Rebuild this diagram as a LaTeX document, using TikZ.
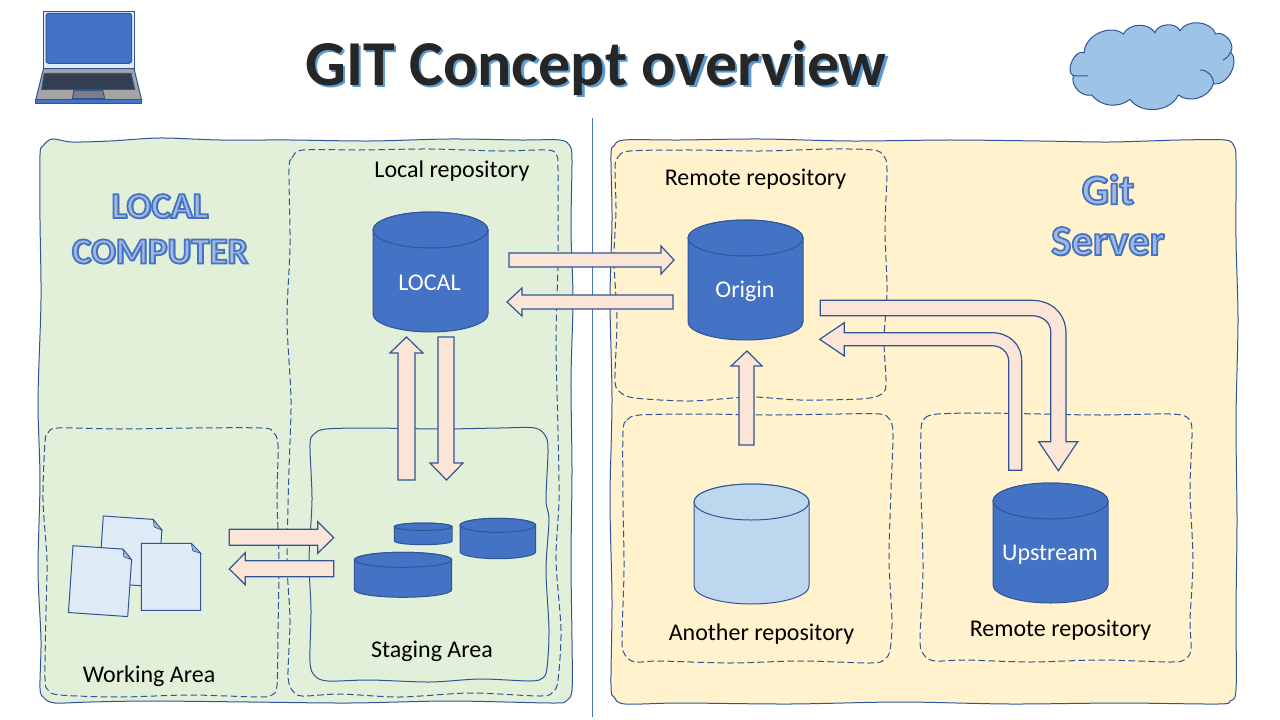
\documentclass[tikz,border=0pt]{standalone}
\usepackage{fontspec}
\setmainfont{Carlito}
\usepackage{tikz}
\definecolor{lineblue}{HTML}{2F5597}
\definecolor{diskblue}{HTML}{4472C4}
\definecolor{paleblue}{HTML}{BDD7EE}
\definecolor{cloudblue}{HTML}{9DC3E6}
\definecolor{sheetblue}{HTML}{DEEAF6}
\definecolor{foldgrey}{HTML}{ADB9CA}
\definecolor{greenbg}{HTML}{E2F0D9}
\definecolor{yellowbg}{HTML}{FFF2CC}
\definecolor{peach}{HTML}{FBE5D6}
\definecolor{shadowblue}{HTML}{5B9BD5}
\definecolor{titleblack}{HTML}{262626}
\definecolor{basegrey}{HTML}{A5A5A5}
\definecolor{padgrey}{HTML}{7F7F7F}
\definecolor{keysdark}{HTML}{333F50}
\tikzset{
	wavybox/.style={draw=lineblue,line width=0.75pt},
	dashbox/.style={draw=lineblue,line width=0.75pt,dash pattern=on 5pt off 2.5pt},
	flow/.style={draw=lineblue,fill=peach,line width=0.9pt,line join=miter},
	diskline/.style={draw=lineblue,line width=0.75pt},
	label/.style={font=\fontsize{18}{22}\selectfont,text=black},
	dblabel/.style={font=\fontsize{18}{22}\selectfont,text=white},
}
% one shifted copy of a text, inside a node
\newcommand\copyat[4]{\rlap{\kern#1\raisebox{#2}{\textcolor{#3}{#4}}}}
% outlined heading text: blue stroke, light inside
\newcommand\strokeon{\special{pdf:code q 2 Tr 1.3 w 0.267 0.447 0.769 RG 0.631 0.722 0.882 rg}}
\newcommand\strokeoff{\special{pdf:code 0 Tr Q}}
\newcommand\ringtext[1]{%
	\copyat{1pt}{-1pt}{diskblue}{#1}\strokeon #1\strokeoff}
% left, top, right, bottom, ellipse radius, fill
\newcommand\dbdisk[6]{
	\draw[diskline,fill=#6] ({#1},{#2+#5}) -- ({#1},{#4-#5})
		arc[start angle=180,end angle=0,x radius={(#3-#1)/2},y radius=#5]
		-- ({#3},{#2+#5})
		arc[start angle=0,end angle=-180,x radius={(#3-#1)/2},y radius=#5] -- cycle;
	\draw[diskline,fill=#6] ({(#1+#3)/2},{#2+#5}) ellipse [x radius={(#3-#1)/2},y radius=#5];
}
% one sheet of paper: top left corner and turn
\newcommand\sheet[3]{
	\begin{scope}[shift={(#1,#2)},rotate=#3]
		\draw[diskline,fill=sheetblue] (0,0) -- (50,0) -- (59.4,10) -- (59.4,67) -- (0,67) -- cycle;
		\draw[diskline,fill=foldgrey,line width=0.5pt] (50,0) -- (59.4,10) -- (51.5,7.5) -- cycle;
	\end{scope}
}
\begin{document}
\begin{tikzpicture}[x=0.75pt,y=-0.75pt]
	\useasboundingbox (0,0) rectangle (1280,720);
	% outer areas
	\draw[wavybox,fill=greenbg] plot[smooth cycle,tension=0.5] coordinates {(40,155) (43,146) (52,139) (72,142) (110,141) (160,138) (220,140) (290,140) (370,141) (450,139) (520,140) (560,140) (570,146) (572,160) (571,230) (573,300) (571,380) (572,470) (571,560) (572,640) (572,690) (566,701) (552,703) (450,701) (350,703) (250,702) (150,701) (90,702) (55,703) (44,698) (40,688) (41,640) (38,570) (40,480) (38,400) (41,300) (40,220)};
	\draw[wavybox,fill=yellowbg] plot[smooth cycle,tension=0.5] coordinates {(611,155) (614,146) (624,140) (680,140) (760,139) (850,141) (950,140) (1040,141) (1110,142) (1180,140) (1225,140) (1234,146) (1236,160) (1236,240) (1238,320) (1236,420) (1237,520) (1236,610) (1236,690) (1230,701) (1218,704) (1120,703) (1010,704) (900,702) (790,704) (680,703) (625,704) (614,697) (611,685) (612,600) (610,500) (612,400) (610,300) (612,220)};
	% dashed areas
	\draw[dashbox] plot[smooth cycle,tension=0.5] coordinates {(289,170) (292,158) (303,150) (360,150) (430,149) (500,151) (548,150) (557,156) (558,170) (558,260) (556,340) (558,430) (559,500) (556,560) (561,630) (558,680) (553,692) (540,696) (470,693) (400,697) (340,694) (302,696) (292,690) (288,675) (290,620) (287,560) (289,470) (291,400) (287,320) (290,245)};
	\draw[dashbox] plot[smooth cycle,tension=0.5] coordinates {(45,442) (48,433) (58,428) (120,429) (190,428) (262,428) (273,432) (278,445) (277,500) (279,560) (278,630) (277,685) (272,695) (258,697) (190,695) (120,697) (60,695) (48,690) (45,678) (46,610) (47,560) (43,500)};
	\draw[wavybox] plot[smooth cycle,tension=0.5] coordinates {(310,445) (314,434) (326,429) (370,428) (440,429) (500,428) (535,428) (546,437) (548,452) (546,500) (549,520) (546,570) (549,630) (547,668) (543,678) (530,681) (480,679) (430,682) (370,680) (328,681) (315,676) (310,662) (311,610) (309,560) (312,500)};
	\draw[dashbox] plot[smooth cycle,tension=0.5] coordinates {(615,168) (618,157) (630,151) (690,150) (760,151) (830,149) (873,150) (884,156) (887,170) (885,230) (887,290) (884,340) (886,385) (880,395) (860,399) (800,400) (750,397) (690,401) (635,398) (620,392) (615,380) (617,320) (614,260) (616,210)};
	\draw[dashbox] plot[smooth cycle,tension=0.5] coordinates {(623,432) (627,420) (640,415) (700,414) (770,415) (840,414) (880,414) (890,420) (893,435) (891,490) (889,560) (892,620) (890,650) (884,660) (870,663) (800,661) (730,663) (660,661) (635,662) (625,655) (622,640) (624,570) (623,500)};
	\draw[dashbox] plot[smooth cycle,tension=0.5] coordinates {(921,430) (925,418) (938,414) (980,413) (1040,414) (1100,415) (1170,414) (1188,418) (1192,432) (1190,490) (1193,560) (1190,620) (1191,650) (1184,660) (1170,662) (1100,660) (1030,662) (965,660) (935,661) (924,655) (920,640) (923,570) (921,490)};
	% divider
	\draw[draw=diskblue,line width=0.75pt] (592,118) -- (592,717);
	% laptop
	\draw[diskline,fill=sheetblue] (43.5,11.5) rectangle (134,68.7);
	\draw[diskline,fill=diskblue,rounded corners=2pt] (46,13.3) rectangle (131.7,63.3);
	\draw[diskline,fill=basegrey] (43.5,68.7) -- (134,68.7) -- (141.7,100) -- (35.7,100) -- cycle;
	\draw[diskline,fill=keysdark] (44.3,73.3) -- (131,73.3) -- (134.7,89.3) -- (41.7,89.3) -- cycle;
	\draw[diskline,fill=padgrey] (74,90.3) -- (102.7,90.3) -- (104.7,98.7) -- (72.3,98.7) -- cycle;
	\draw[diskline,fill=diskblue] (35.7,100) rectangle (141.7,103.3);
	% cloud
	\draw[diskline,fill=cloudblue] (1084.3,52.7) to[bend left=65] (1123.3,34) to[bend left=60] (1155,32.7) to[bend left=70] (1180,30.7) to[bend left=65] (1215.7,34) to[bend left=75] (1230.7,51.7) to[bend left=70] (1213.3,84) to[bend left=55] (1178.3,95) to[bend left=60] (1130,99.3) to[bend left=45] (1091.7,95) to[bend left=60] (1073.3,75.7) to[bend left=90] cycle;
	\draw[diskline] (1213.3,84) to[bend right=50] (1200,70);
	\draw[diskline] (1073.3,75.7) -- (1088,76);
	\draw[diskline] (1230.7,51.7) to[bend left=20] (1223,60);
	% sheets
	\sheet{103.3}{516}{-3.9}
	\sheet{73}{545.7}{-3.9}
	\sheet{141.3}{543.3}{0}
	% disks
	\dbdisk{373}{212}{488}{332}{18}{diskblue}
	\dbdisk{688}{220}{803}{340}{18}{diskblue}
	\dbdisk{993}{483}{1108}{603}{18}{diskblue}
	\dbdisk{694}{484}{809}{604}{18}{paleblue}
	\dbdisk{394.3}{523}{452}{544.7}{3.7}{diskblue}
	\dbdisk{460}{518.3}{535.7}{558.7}{7}{diskblue}
	\dbdisk{354.3}{552.3}{451.7}{597.3}{7.5}{diskblue}
	% block arrows
	\draw[flow] (509,253) -- (661,253) -- (661,246) -- (674,260) -- (661,274) -- (661,267) -- (509,267) -- cycle;
	\draw[flow] (673,295) -- (522,295) -- (522,288) -- (507,302) -- (522,316) -- (522,309) -- (673,309) -- cycle;
	\draw[flow] (398,480) -- (398,353) -- (390,353) -- (406.5,337) -- (423,353) -- (415,353) -- (415,480) -- cycle;
	\draw[flow] (438,337) -- (438,463) -- (430,463) -- (446.5,480) -- (463,463) -- (454,463) -- (454,337) -- cycle;
	\draw[flow] (229.3,529.3) -- (317.7,529.3) -- (317.7,521.7) -- (333.7,537.7) -- (317.7,553.3) -- (317.7,545.3) -- (229.3,545.3) -- cycle;
	\draw[flow] (333.7,560.7) -- (245.3,560.7) -- (245.3,552.7) -- (229.3,569) -- (245.3,584.7) -- (245.3,576.7) -- (333.7,576.7) -- cycle;
	\draw[flow] (739,445) -- (739,366) -- (731,366) -- (747,351) -- (762,366) -- (754,366) -- (754,445) -- cycle;
	\draw[flow] (820.3,300.3) -- (1031.7,300.3) .. controls (1052,300.3) and (1066,314) .. (1066,333.3) -- (1066,441.7) -- (1077.7,441.7) -- (1058.3,470.7) -- (1038.7,441.7) -- (1050.7,441.7) -- (1050.7,331.7) .. controls (1050.7,322) and (1042,315.7) .. (1031.7,315.7) -- (820.3,315.7) -- cycle;
	\draw[flow] (1021.7,470.3) -- (1021.7,361.7) .. controls (1021.7,344) and (1009,332.7) .. (991.7,332.7) -- (844.3,332.7) -- (844.3,322.7) -- (819.7,339.3) -- (844.3,356) -- (844.3,345.7) -- (991.7,345.7) .. controls (1001,345.7) and (1008.7,352) .. (1008.7,361.7) -- (1008.7,470.3) -- cycle;
	% texts
	\node[font=\fontsize{48}{54}\selectfont\bfseries] (title) at (596,69) {\copyat{1.6pt}{-1.6pt}{shadowblue}{GIT Concept overview}\textcolor{titleblack}{GIT Concept overview}};
	\node[align=center,font=\fontsize{27.5}{34}\selectfont\bfseries] (localhead) at (160,229.5) {\ringtext{LOCAL}\\\ringtext{COMPUTER}};
	\node[align=center,font=\fontsize{32}{38}\selectfont\bfseries] (serverhead) at (1108,215.5) {\ringtext{Git}\\\ringtext{Server}};
	\node[label] (localrepo) at (452,171) {Local repository};
	\node[label] (remoterepo) at (755.5,179) {Remote repository};
	\node[label] (anotherrepo) at (761.5,634) {Another repository};
	\node[label] (upstreamrepo) at (1060.5,630) {Remote repository};
	\node[label] (staging) at (432,651) {Staging Area};
	\node[label] (working) at (149,676) {Working Area};
	\node[dblabel] (localdb) at (429.5,283) {LOCAL};
	\node[dblabel] (origindb) at (745,291) {Origin};
	\node[dblabel] (upstreamdb) at (1050,555) {Upstream};
\end{tikzpicture}
\end{document}
